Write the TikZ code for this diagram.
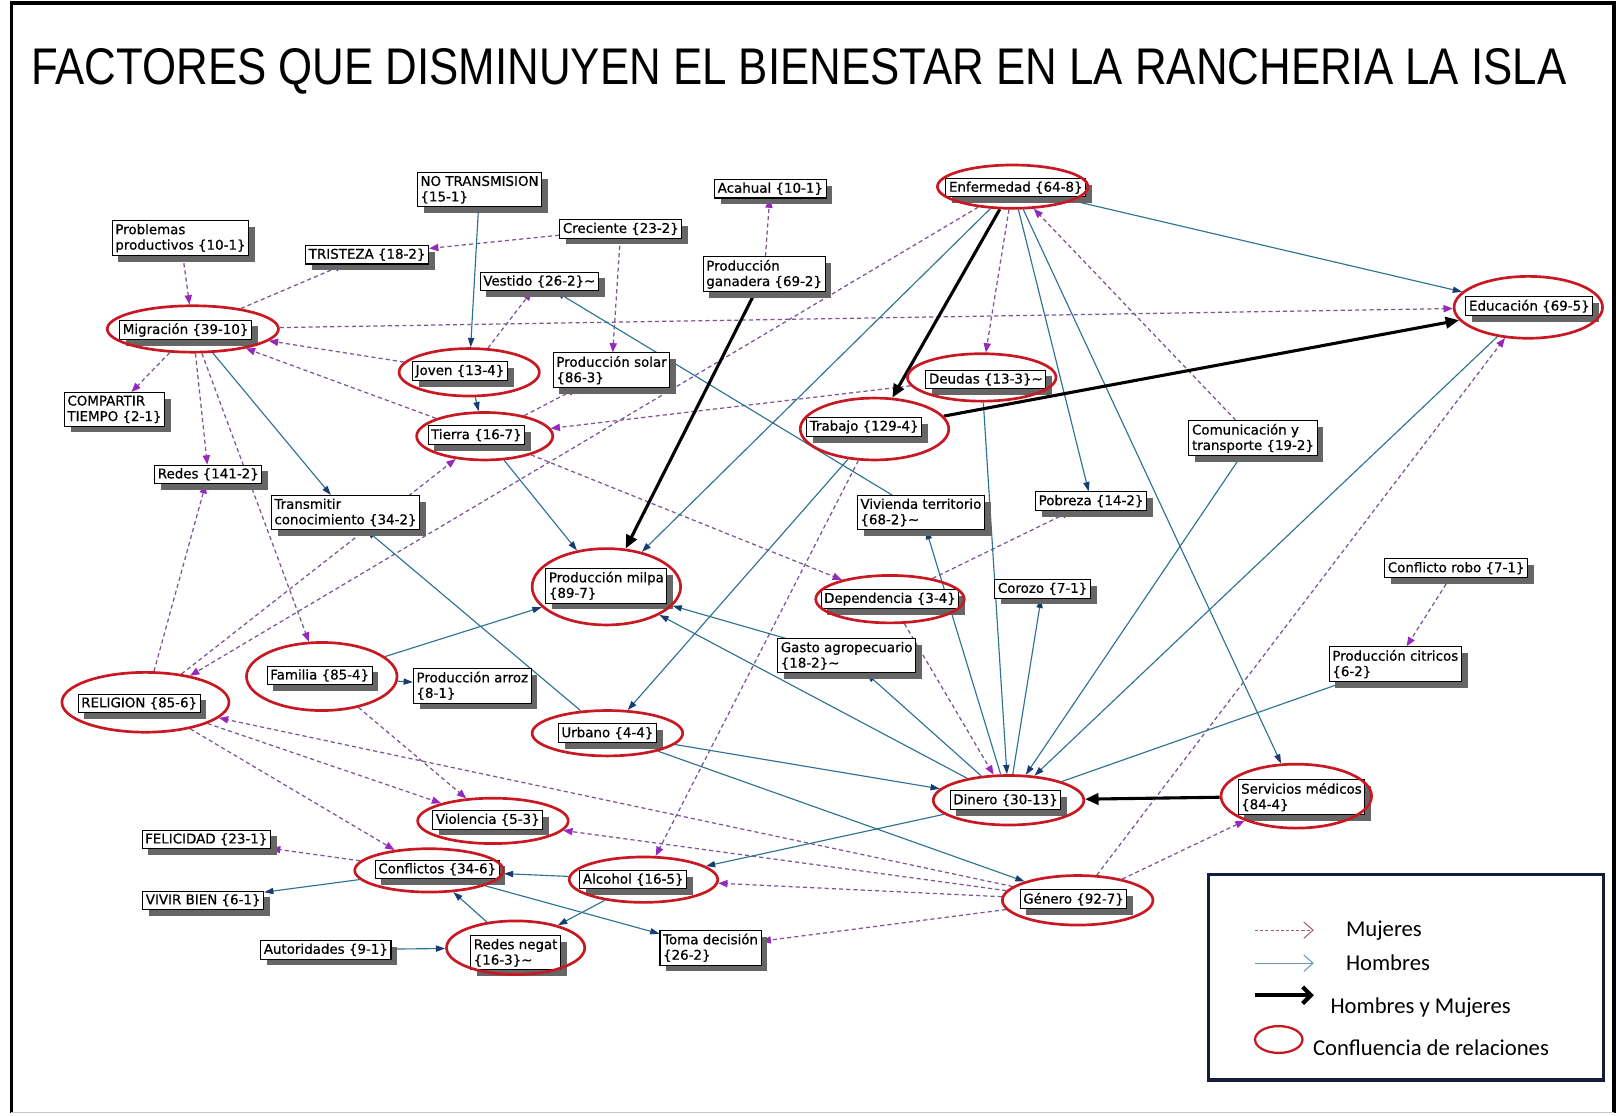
\documentclass[tikz,border=0pt]{standalone}
\usepackage{fontspec}
\newfontfamily\bxfont[FakeBold=0.6]{DejaVu Sans}
\newfontfamily\legfont{Carlito}
\newfontfamily\titfont[FakeStretch=0.85]{Liberation Sans}
\usetikzlibrary{shapes.geometric,arrows.meta,shadows}
\pgfdeclarelayer{background}
\pgfdeclarelayer{paper}
\pgfsetlayers{paper,background,main}
\definecolor{mujc}{RGB}{125,85,150}
\definecolor{mujt}{RGB}{150,40,190}
\definecolor{homc}{RGB}{45,115,145}
\definecolor{homt}{RGB}{25,60,110}
\definecolor{ellc}{RGB}{200,25,35}
\definecolor{navyc}{RGB}{20,30,60}
\definecolor{legm}{RGB}{170,90,100}
\definecolor{legh}{RGB}{110,150,180}
\begin{document}
\begin{tikzpicture}[x=1pt,y=-1pt,
  nbox/.style={draw=black, fill=white, line width=1pt, align=left,
    font={\bxfont\fontsize{13}{15}\selectfont}, inner xsep=3pt, inner ysep=3pt,
    drop shadow={shadow xshift=6pt, shadow yshift=-6pt, fill=black!60, opacity=1}},
  redring/.style={ellipse, draw=ellc, line width=2.6pt, inner sep=0pt},
  muj/.style={draw=mujc, line width=1.2pt, dash pattern=on 4pt off 3pt,
    -{Triangle[length=9pt,width=7pt,color=mujt]}},
  hom/.style={draw=homc, line width=1.1pt, -{Triangle[length=9pt,width=6pt,color=homt]}},
  amb/.style={draw=black, line width=3pt, -{Triangle[length=13pt,width=11pt]}},
  legtext/.style={font={\legfont\fontsize{22}{26}\selectfont}, inner sep=0pt, anchor=west}
]
\useasboundingbox (0,0) rectangle (1568,1082);
\begin{pgfonlayer}{paper}
\fill[white] (0,0) rectangle (1568,1082);
\end{pgfonlayer}
\draw[line width=3.5pt] (11,1079) -- (11,3) -- (1565,3) -- (1565,1079);
\draw[gray!45, line width=1pt] (11,1079) -- (1565,1079);

\node[anchor=west, inner sep=0pt, font={\titfont\fontsize{50}{56}\selectfont}] (title) at (30,69)
  {FACTORES QUE DISMINUYEN EL BIENESTAR EN LA RANCHERIA LA ISLA};

% boxes
\node[nbox] (notr) at (465,184) {NO TRANSMISION\\\{15-1\}};
\node[nbox] (acah) at (747,183) {Acahual \{10-1\}};
\node[nbox] (enfB) at (985,182) {Enfermedad \{64-8\}};
\node[nbox] (prob) at (175,231) {Problemas\\productivos \{10-1\}};
\node[nbox] (crec) at (602,222) {Creciente \{23-2\}};
\node[nbox] (tris) at (356,247) {TRISTEZA \{18-2\}};
\node[nbox] (gana) at (741,266) {Producción\\ganadera \{69-2\}};
\node[nbox] (vest) at (523,273) {Vestido \{26-2\}\textasciitilde};
\node[nbox] (migB) at (180,320) {Migración \{39-10\}};
\node[nbox] (eduB) at (1483,297) {Educación \{69-5\}};
\node[nbox] (jovB) at (446,360) {Joven \{13-4\}};
\node[nbox] (solar) at (593,359) {Producción solar\\\{86-3\}};
\node[nbox] (deuB) at (956,368) {Deudas \{13-3\}\textasciitilde};
\node[nbox] (comp) at (111,397) {COMPARTIR\\TIEMPO \{2-1\}};
\node[nbox] (traB) at (838,414) {Trabajo \{129-4\}};
\node[nbox] (tieB) at (462,422) {Tierra \{16-7\}};
\node[nbox] (comu) at (1215,425) {Comunicación y\\transporte \{19-2\}};
\node[nbox] (redes) at (202,460) {Redes \{141-2\}};
\node[nbox] (trans) at (335,497) {Transmitir\\conocimiento \{34-2\}};
\node[nbox] (viv) at (893,497) {Vivienda territorio\\\{68-2\}\textasciitilde};
\node[nbox] (pob) at (1058,486) {Pobreza \{14-2\}};
\node[nbox] (milB) at (588,568) {Producción milpa\\\{89-7\}};
\node[nbox] (robo) at (1412,551) {Conflicto robo \{7-1\}};
\node[nbox] (coro) at (1011,571) {Corozo \{7-1\}};
\node[nbox] (depB) at (863,581) {Dependencia \{3-4\}};
\node[nbox] (gasto) at (821,636) {Gasto agropecuario\\\{18-2\}\textasciitilde};
\node[nbox] (citr) at (1353,644) {Producción citricos\\\{6-2\}};
\node[nbox] (famB) at (310,655) {Familia \{85-4\}};
\node[nbox] (arroz) at (458,665) {Producción arroz\\\{8-1\}};
\node[nbox] (relB) at (135,682) {RELIGION \{85-6\}};
\node[nbox] (urbB) at (589,711) {Urbano \{4-4\}};
\node[nbox] (dinB) at (975,776) {Dinero \{30-13\}};
\node[nbox] (servB) at (1262,773) {Servicios médicos\\\{84-4\}};
\node[nbox] (violB) at (473,795) {Violencia \{5-3\}};
\node[nbox] (feli) at (200,814) {FELICIDAD \{23-1\}};
\node[nbox] (confB) at (424,843) {Conflictos \{34-6\}};
\node[nbox] (alcB) at (614,853) {Alcohol \{16-5\}};
\node[nbox] (genB) at (1041,872) {Género \{92-7\}};
\node[nbox] (vivir) at (197,873) {VIVIR BIEN \{6-1\}};
\node[nbox] (auto) at (316,921) {Autoridades \{9-1\}};
\node[nbox] (rnegB) at (500,924) {Redes negat\\\{16-3\}\textasciitilde};
\node[nbox] (toma) at (689,919) {Toma decisión\\\{26-2\}};

% red ellipses
\node[redring, minimum width=146pt, minimum height=42pt] (enf) at (982,181) {};
\node[redring, minimum width=166pt, minimum height=45pt] (mig) at (187,319) {};
\node[redring, minimum width=144pt, minimum height=60pt] (edu) at (1482,298) {};
\node[redring, minimum width=136pt, minimum height=46pt] (jov) at (455,361) {};
\node[redring, minimum width=144pt, minimum height=46pt] (deu) at (952,366) {};
\node[redring, minimum width=144pt, minimum height=60pt] (tra) at (848,416) {};
\node[redring, minimum width=132pt, minimum height=46pt] (tie) at (470,423) {};
\node[redring, minimum width=144pt, minimum height=74pt] (mil) at (588,569) {};
\node[redring, minimum width=144pt, minimum height=46pt] (dep) at (863,581) {};
\node[redring, minimum width=146pt, minimum height=66pt] (fam) at (312,656) {};
\node[redring, minimum width=162pt, minimum height=58pt] (rel) at (141,681) {};
\node[redring, minimum width=146pt, minimum height=44pt] (urb) at (589,711) {};
\node[redring, minimum width=146pt, minimum height=48pt] (din) at (978,776) {};
\node[redring, minimum width=146pt, minimum height=62pt] (serv) at (1257,772) {};
\node[redring, minimum width=146pt, minimum height=44pt] (viol) at (478,796) {};
\node[redring, minimum width=144pt, minimum height=42pt] (conf) at (416,844) {};
\node[redring, minimum width=144pt, minimum height=44pt] (alc) at (624,853) {};
\node[redring, minimum width=146pt, minimum height=48pt] (gen) at (1045,873) {};
\node[redring, minimum width=134pt, minimum height=52pt] (rneg) at (500,919) {};

% legend
\node[draw=navyc, fill=white, line width=3.5pt, minimum width=383pt, minimum height=199pt, inner sep=0pt] (leg) at (1363.5,947.5) {};
\coordinate (l1a) at (1217,902); \coordinate (l1b) at (1274,902);
\coordinate (l2a) at (1217,934); \coordinate (l2b) at (1274,934);
\coordinate (l3a) at (1217,965); \coordinate (l3b) at (1274,965);
\draw[draw=legm, line width=1pt, dash pattern=on 3pt off 2pt, -{Straight Barb[length=9pt,width=16pt,line width=1pt]}] (l1a) -- (l1b);
\draw[draw=legh, line width=1pt, -{Straight Barb[length=9pt,width=16pt,line width=1pt]}] (l2a) -- (l2b);
\draw[draw=black, line width=4pt, -{Straight Barb[length=8pt,width=16pt,line width=4pt]}] (l3a) -- (l3b);
\node[legtext] (lt1) at (1305,902) {Mujeres};
\node[legtext] (lt2) at (1305,934) {Hombres};
\node[legtext] (lt3) at (1290,977) {Hombres y Mujeres};
\node[redring, line width=2.2pt, minimum width=46pt, minimum height=26pt] (lring) at (1240,1008) {};
\node[legtext] (lt4) at (1273,1016) {Confluencia de relaciones};

% connectors
\begin{pgfonlayer}{background}
% Mujeres
\draw[muj] (prob) -- (mig);
\draw[muj] (mig) -- (tris);
\draw[muj] (mig) -- (comp);
\draw[muj] (mig) -- (redes);
\draw[muj] (mig) -- (fam);
\draw[muj] (jov) -- (mig);
\draw[muj] (tie) -- (mig);
\draw[muj] (mig) -- (edu);
\draw[muj] (jov) -- (vest);
\draw[muj] (crec) -- (tris);
\draw[muj] (crec) -- (solar);
\draw[muj] (gana) -- (acah);
\draw[muj] (tie) -- (solar);
\draw[muj] (tie) -- (dep);
\draw[muj] (deu) -- (tie);
\draw[muj] (rel) -- (tie);
\draw[muj] (enf) -- (rel);
\draw[muj] (enf) -- (deu);
\draw[muj] (comu) -- (enf);
\draw[muj] (tra) -- (alc);
\draw[muj] (dep) -- (pob);
\draw[muj] (dep) -- (din);
\draw[muj] (fam) -- (viol);
\draw[muj] (rel) -- (redes);
\draw[muj] (rel) -- (viol);
\draw[muj] (rel) -- (conf);
\draw[muj] (gen) -- (rel);
\draw[muj] (gen) -- (viol);
\draw[muj] (gen) -- (alc);
\draw[muj] (gen) -- (toma);
\draw[muj] (gen) -- (edu);
\draw[muj] (gen) -- (serv);
\draw[muj] (conf) -- (feli);
\draw[muj] (robo) -- (citr);
% Hombres
\draw[hom] (mig) -- (trans);
\draw[hom] (notr) -- (jov);
\draw[hom] (jov) -- (tie);
\draw[hom] (tie) -- (mil);
\draw[hom] (viv) -- (vest);
\draw[hom] (enf) -- (mil);
\draw[hom] (enf) -- (pob);
\draw[hom] (enf) -- (serv);
\draw[hom] (enf) -- (edu);
\draw[hom] (tra) -- (urb);
\draw[hom] (urb) -- (trans);
\draw[hom] (deu) -- (din);
\draw[hom] (din) -- (viv);
\draw[hom] (din) -- (coro);
\draw[hom] (din) -- (gasto);
\draw[hom] (din) -- (mil);
\draw[hom] (din) -- (citr);
\draw[hom] (edu) -- (din);
\draw[hom] (comu) -- (din);
\draw[hom] (urb) -- (din);
\draw[hom] (urb) -- (gen);
\draw[hom] (din) -- (alc);
\draw[hom] (gasto) -- (mil);
\draw[hom] (fam) -- (mil);
\draw[hom] (fam) -- (arroz);
\draw[hom] (conf) -- (vivir);
\draw[hom] (alc) -- (conf);
\draw[hom] (alc) -- (rneg);
\draw[hom] (rneg) -- (conf);
\draw[hom] (auto) -- (rneg);
\draw[hom] (conf) -- (toma);
% Hombres y Mujeres
\draw[amb] (gana) -- (mil);
\draw[amb] (enf) -- (tra);
\draw[amb] (tra) -- (edu);
\draw[amb] (serv) -- (din);
\end{pgfonlayer}
\end{tikzpicture}
\end{document}
